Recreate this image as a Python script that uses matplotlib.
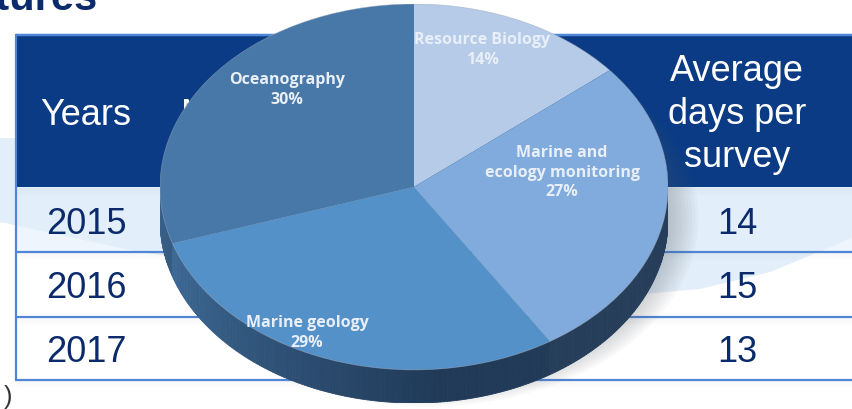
import numpy as np
import matplotlib
matplotlib.use("Agg")
import matplotlib.pyplot as plt
from matplotlib.patches import Rectangle, Polygon, Ellipse
import matplotlib.colors as mc

# ---------------- data ----------------
categories = ["Resource Biology", "Marine and\necology monitoring", "Marine geology", "Oceanography"]
shares = [14, 27, 29, 30]
slice_colors = ["#b5cbe8", "#80abdc", "#5591c9", "#4878a8"]
years = ["2015", "2016", "2017"]
avg_days = [14, 15, 13]
col_headers = ["Years", "Average\ndays per\nsurvey"]
hidden_header = "M"
title_tail = "atures"

W, H = 852, 409
fig = plt.figure(figsize=(W / 100, H / 100), dpi=100)
ax = fig.add_axes([0, 0, 1, 1])
ax.set_xlim(0, W)
ax.set_ylim(H, 0)
ax.axis("off")

navy = "#0b2a6b"
header_blue = "#0a3b84"
line_blue = "#4f86d6"
PX = 0.72  # points per pixel

# title fragment (clipped at top, as in the slide)
ax.text(98, 10, title_tail, ha="right", va="baseline", fontsize=30, fontweight="bold",
        color=navy, family="Liberation Sans", zorder=3)

# table geometry
left, top, hdr_bot = 16, 35, 187
row_edges = [187, 252, 317, 380]

# 2015 row tint
ax.add_patch(Rectangle((left, row_edges[0]), W - left, row_edges[1] - row_edges[0],
                       facecolor="#eef5fc", edgecolor="none", zorder=1))

# background swoosh
low_pts = [(0, 222), (140, 252), (300, 275), (500, 291), (620, 296), (700, 289), (770, 272), (852, 238)]
up_pts = [(852, 150), (0, 138)]
ax.add_patch(Polygon(low_pts + up_pts, closed=True, facecolor="#e2eef9", edgecolor="none", zorder=1.5))

# soft shadows below lines
for y in row_edges:
    for i in range(1, 9):
        ax.plot([left, W], [y + i, y + i], color="#808890", alpha=0.07 * (1 - i / 9),
                lw=1 * PX, zorder=1.8, solid_capstyle="butt")

# row lines
for y in row_edges[1:]:
    ax.plot([left, W], [y, y], color=line_blue, lw=2.2 * PX, zorder=2, solid_capstyle="butt")
ax.plot([left, left], [top, row_edges[-1]], color=line_blue, lw=2.2 * PX, zorder=2.5)

# header
ax.add_patch(Rectangle((left, top), W - left, hdr_bot - top, facecolor=header_blue,
                       edgecolor="none", zorder=2.2))
ax.plot([left, W], [top, top], color=line_blue, lw=2.5 * PX, zorder=2.3, solid_capstyle="butt")

ax.text(86, 125, col_headers[0], ha="center", va="baseline", fontsize=26, color="white",
        family="Liberation Sans", zorder=3)
ax.text(181, 125, hidden_header, ha="left", va="baseline", fontsize=26, color="white",
        family="Liberation Sans", zorder=3)
for k, line in enumerate(col_headers[1].split("\n")):
    ax.text(737, 81 + 43 * k, line, ha="center", va="baseline", fontsize=26, color="white",
            family="Liberation Sans", zorder=3)

for k, (yr, d) in enumerate(zip(years, avg_days)):
    base = 234 + 64 * k
    ax.text(86, base, yr, ha="center", va="baseline", fontsize=26, color=navy,
            family="Liberation Sans", zorder=3)
    ax.text(737, base, str(d), ha="center", va="baseline", fontsize=26, color=navy,
            family="Liberation Sans", zorder=3)

ax.text(12, 404, ")", ha="right", va="baseline", fontsize=18, color="#333333",
        family="Liberation Sans", zorder=3)

# ---------------- 3D pie ----------------
t = 33 / 182
pax = fig.add_axes([160 / W, (H - 403) / H, 508 / W, 399 / H], zorder=5)
pax.patch.set_alpha(0)

# soft drop shadow
for i in range(12):
    s = 1 - i * 0.012
    pax.add_patch(Ellipse((0.06, -0.17), 2.12 * s, 2.06 * s, facecolor="#5a6068",
                          alpha=0.035, edgecolor="none", zorder=0, clip_on=False))

wedges, _ = pax.pie(shares, colors=slice_colors, startangle=90, counterclock=False,
                    radius=1, center=(0, 0), wedgeprops=dict(linewidth=0))
for w in wedges:
    w.set_zorder(3)

cum = np.cumsum(shares) / np.sum(shares) * 360.0
dark = np.array(mc.to_rgb("#182c46"))
thetas = np.linspace(180, 360, 241)
for a1, a2 in zip(thetas[:-1], thetas[1:]):
    mid = 0.5 * (a1 + a2)
    s_cw = (90 - mid) % 360
    idx = int(np.searchsorted(cum, s_cw, side="right"))
    idx = min(idx, len(shares) - 1)
    base = np.array(mc.to_rgb(slice_colors[idx]))
    u = (mid - 180) / 180
    k = float(np.clip(0.28 + 1.1 * u, 0, 0.86))
    col = base * (1 - k) + dark * k
    r1, r2 = np.radians(a1), np.radians(a2)
    pts = [(np.cos(r1), np.sin(r1)), (np.cos(r2), np.sin(r2)),
           (np.cos(r2), np.sin(r2) - t), (np.cos(r1), np.sin(r1) - t)]
    pax.add_patch(Polygon(pts, closed=True, facecolor=col, edgecolor=col, lw=0.6, zorder=2))

pax.add_patch(Ellipse((0, 0), 2, 2, facecolor="none", edgecolor="#9aa8b8", lw=0.6,
                      alpha=0.5, zorder=4))

pax.set_aspect("auto")
pax.set_xlim(-1, 1)
pax.set_ylim(-1 - t, 1)
pax.axis("off")

label_pos = [(0.268, 0.75), (0.583, 0.077), (-0.421, -0.797), (-0.50, 0.53)]
for cat, sh, (lx, ly) in zip(categories, shares, label_pos):
    pax.text(lx, ly, f"{cat}\n{sh}%", ha="center", va="center", fontsize=11.5,
             fontweight="bold", color="#e8eff8", family="Open Sans", linespacing=1.3, zorder=6)

fig.savefig("out.png", dpi=100)
